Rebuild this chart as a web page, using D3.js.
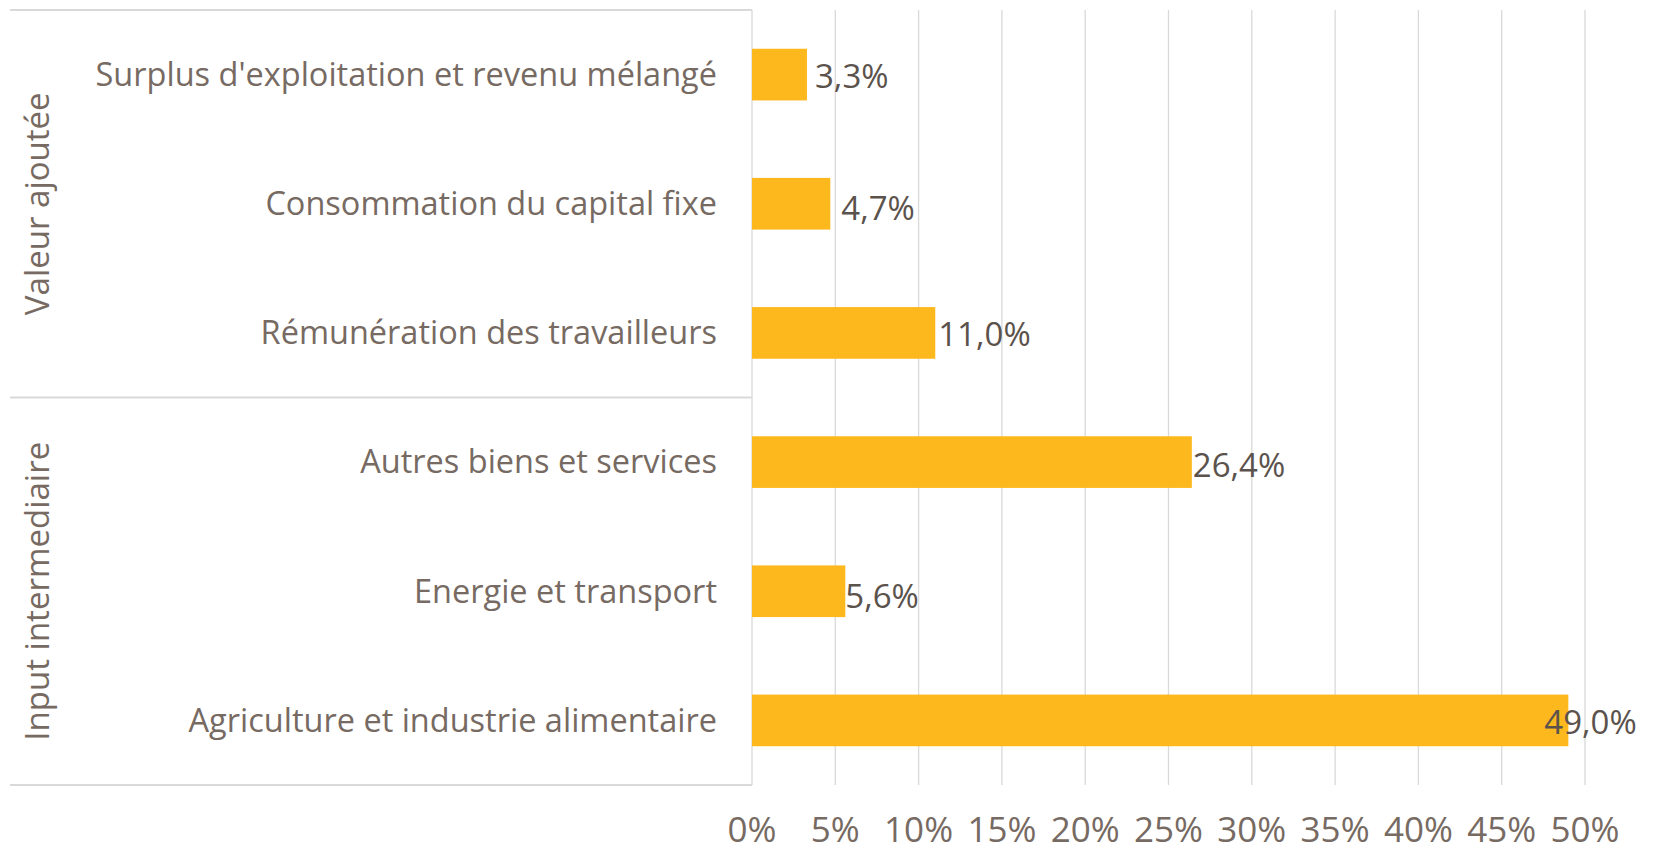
<!DOCTYPE html>
<html>
<meta charset="utf-8">
<style>
    body { margin: 0; background: #fff; }
    .grid line { stroke: #d9d9d9; stroke-width: 1.3px; }
    .frame { stroke: #d9d9d9; stroke-width: 2px; fill: none; }
    .bar { fill: #fdb81e; }
    .cat { fill: #766a62; font-family: "Open Sans", sans-serif; font-size: 32.5px; }
    .tick-lab { fill: #766a62; font-family: "Open Sans", sans-serif; font-size: 35px; }
    .val { fill: #5b524c; font-family: "Open Sans", sans-serif; font-size: 33px; }
    .group { fill: #766a62; font-family: "Open Sans", sans-serif; font-size: 33px; }
</style>

<body>
    <script src="https://d3js.org/d3.v7.min.js"></script>
    <script>

        var width = 1654,
            height = 848;

        // top to bottom
        var categories = [
            "Surplus d'exploitation et revenu mélangé",
            "Consommation du capital fixe",
            "Rémunération des travailleurs",
            "Autres biens et services",
            "Energie et transport",
            "Agriculture et industrie alimentaire"
        ];
        var values = [3.3, 4.7, 11.0, 26.4, 5.6, 49.0];
        var groups = ["Valeur ajoutée", "Input intermediaire"];
        var ticks = [0, 5, 10, 15, 20, 25, 30, 35, 40, 45, 50];

        // small nudges for the value labels, as placed in the original
        var labelDx = [8, 11, 3, 1, 0, -24];
        var labelDy = [2, 5, 2, 3, 5, 2];

        var margin = { top: 10, right: 69, bottom: 63, left: 752 };
        var plotW = width - margin.left - margin.right,
            plotH = height - margin.top - margin.bottom;

        var x = d3.scaleLinear().domain([0, 50]).range([0, plotW]);
        var y = d3.scaleBand().domain(categories).range([0, plotH]).paddingInner(0.6).paddingOuter(0.3);

        var svg = d3.select("body").append("svg")
            .attr("width", width)
            .attr("height", height);

        var g = svg.append("g")
            .attr("transform", "translate(" + margin.left + "," + margin.top + ")");

        // vertical gridlines
        g.append("g").attr("class", "grid")
            .selectAll("line")
            .data(ticks)
            .enter().append("line")
            .attr("x1", function (d) { return x(d); })
            .attr("x2", function (d) { return x(d); })
            .attr("y1", 0)
            .attr("y2", plotH);

        // group frame lines on the left
        var step = y.step();
        var leftX = 10 - margin.left;
        var bounds = [0, 3 * step, plotH];
        g.selectAll(".hline")
            .data(bounds)
            .enter().append("line")
            .attr("class", "frame")
            .attr("x1", leftX)
            .attr("x2", 0)
            .attr("y1", function (d) { return d; })
            .attr("y2", function (d) { return d; });

        g.selectAll(".bar")
            .data(values)
            .enter().append("rect")
            .attr("class", "bar")
            .attr("x", 0)
            .attr("y", function (d, i) { return y(categories[i]); })
            .attr("width", function (d) { return x(d); })
            .attr("height", y.bandwidth());

        g.selectAll(".val")
            .data(values)
            .enter().append("text")
            .attr("class", "val")
            .attr("x", function (d, i) { return x(d) + labelDx[i]; })
            .attr("y", function (d, i) { return y(categories[i]) + y.bandwidth() / 2 + labelDy[i]; })
            .attr("dy", "0.35em")
            .text(function (d) { return d.toFixed(1).replace(".", ",") + "%"; });

        g.selectAll(".cat")
            .data(categories)
            .enter().append("text")
            .attr("class", "cat")
            .attr("x", -35)
            .attr("y", function (d) { return y(d) + y.bandwidth() / 2; })
            .attr("dy", "0.35em")
            .attr("text-anchor", "end")
            .text(function (d) { return d; });

        // group names, rotated
        g.selectAll(".group")
            .data(groups)
            .enter().append("text")
            .attr("class", "group")
            .attr("transform", function (d, i) {
                var cy = (bounds[i] + bounds[i + 1]) / 2;
                return "translate(" + (37 - margin.left) + "," + cy + ") rotate(-90)";
            })
            .attr("dy", "0.35em")
            .attr("text-anchor", "middle")
            .text(function (d) { return d; });

        g.selectAll(".tick-lab")
            .data(ticks)
            .enter().append("text")
            .attr("class", "tick-lab")
            .attr("x", function (d) { return x(d); })
            .attr("y", plotH + 45)
            .attr("dy", "0.35em")
            .attr("text-anchor", "middle")
            .text(function (d) { return d + "%"; });

    </script>

</body>
</html>
